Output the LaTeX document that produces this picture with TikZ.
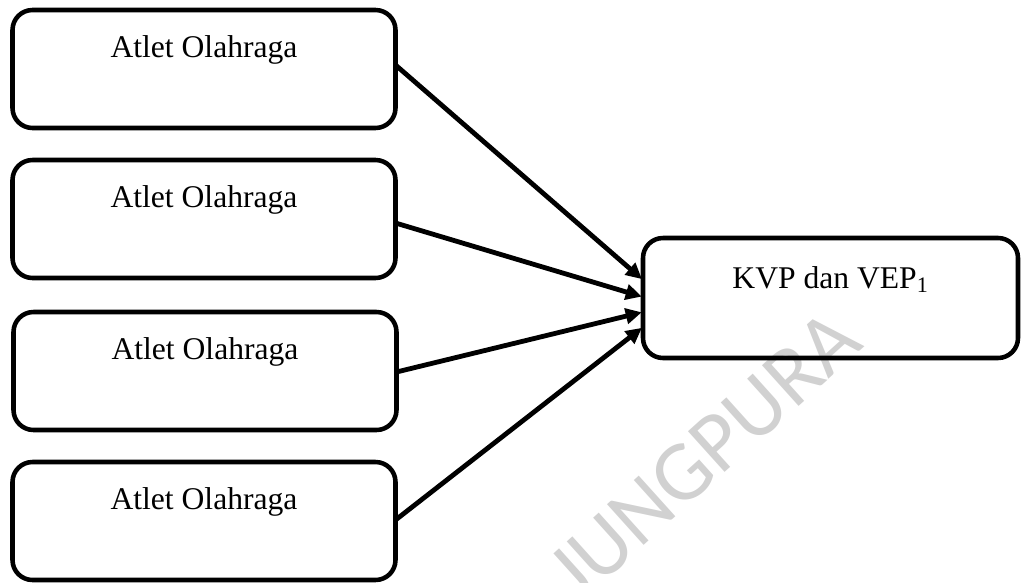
\documentclass[tikz,border=0pt]{standalone}
\usepackage{fontspec}
\setmainfont{Liberation Serif}
\newfontfamily\wmfont{Carlito}
\usetikzlibrary{calc,arrows.meta}
\tikzset{
  boxshape/.style={draw=black, line width=3.4pt, rounded corners=15pt, inner sep=0pt, outer sep=0pt, fill=none},
  leftbox/.style={boxshape, minimum width=287.25pt, minimum height=88.5pt},
  rightbox/.style={boxshape, minimum width=281.25pt, minimum height=90pt},
  txt/.style={font=\fontsize{23.7}{28}\selectfont, inner sep=0pt, anchor=base},
  arr/.style={line width=3.6pt, -{Triangle[length=12pt,width=11.5pt]}, shorten >=1pt},
  watermark/.style={font=\wmfont\fontsize{64}{72}\selectfont, text=black!18, rotate=42, inner sep=0pt}
}
\begin{document}
\begin{tikzpicture}[x=0.75pt,y=-0.75pt]
\useasboundingbox (0,0) rectangle (1021,582);
\begin{scope}
\clip (0,0) rectangle (1021,582);
\node[watermark] (wm) at (714,446) {\llap{J}UNGPURA};
\end{scope}
\node[leftbox] (b1) at (204,69) {};
\node[leftbox] (b2) at (204,219) {};
\node[leftbox] (b3) at (205,371) {};
\node[leftbox] (b4) at (204,521) {};
\node[rightbox] (k) at (830.5,298) {};
\node[txt] (t1) at ($(b1.north)+(0,47)$) {Atlet Olahraga};
\node[txt] (t2) at ($(b2.north)+(0,47)$) {Atlet Olahraga};
\node[txt] (t3) at ($(b3.north)+(0,47)$) {Atlet Olahraga};
\node[txt] (t4) at ($(b4.north)+(0,47)$) {Atlet Olahraga};
\node[txt] (tk) at ($(k.north)+(0,50)$) {KVP dan VEP\textsubscript{1}};
\coordinate (s1) at ($(b1.east)+(0,-4)$);
\coordinate (s2) at ($(b2.east)+(0,4)$);
\coordinate (s3) at ($(b3.east)+(0,1)$);
\coordinate (s4) at ($(b4.east)+(0,-1)$);
\coordinate (e1) at ($(k.west)+(0,-18)$);
\coordinate (e2) at ($(k.west)+(0,-1)$);
\coordinate (e3) at ($(k.west)+(0,14)$);
\coordinate (e4) at ($(k.west)+(0,29)$);
\draw[arr] (s1) -- (e1);
\draw[arr] (s2) -- (e2);
\draw[arr] (s3) -- (e3);
\draw[arr] (s4) -- (e4);
\end{tikzpicture}
\end{document}
